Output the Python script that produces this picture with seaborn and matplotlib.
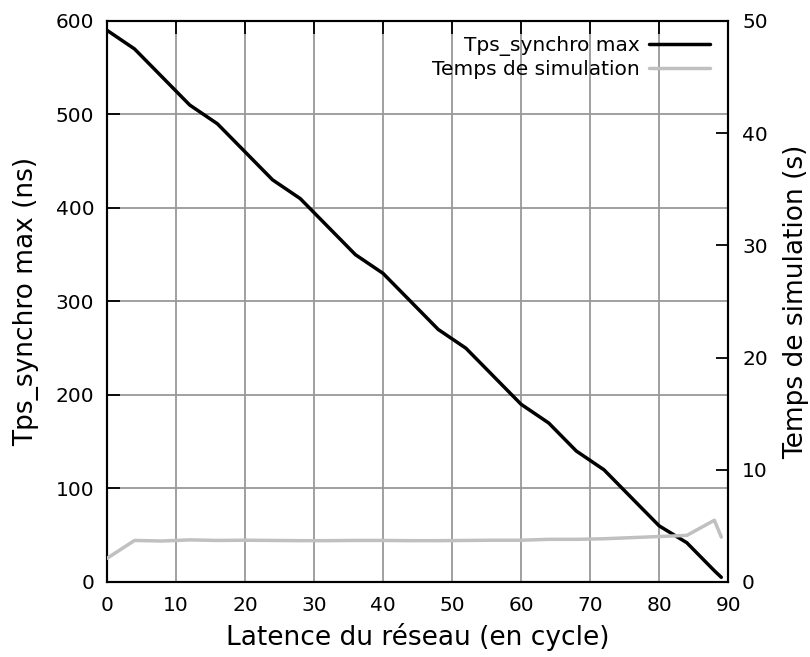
import matplotlib
matplotlib.use('Agg')
import matplotlib.pyplot as plt
import seaborn as sns
import pandas as pd

# %% data
latence = [0, 4, 8, 12, 16, 20, 24, 28, 32, 36, 40, 44, 48, 52, 56, 60, 64, 68, 72, 76, 80, 84, 88, 89]
tps_synchro = [590, 570, 540, 510, 490, 460, 430, 410, 380, 350, 330, 300, 270, 250, 220, 190, 170, 140, 120, 90, 60, 42, 12, 5]
temps_simu = [2.1, 3.7, 3.65, 3.75, 3.7, 3.72, 3.7, 3.68, 3.68, 3.7, 3.7, 3.68, 3.68, 3.7, 3.72, 3.72, 3.8, 3.8, 3.85, 3.95, 4.05, 4.15, 5.5, 4.0]

df = pd.DataFrame({'latence': latence, 'synchro': tps_synchro, 'simu': temps_simu})

# %% plot
sns.set_style('white')
plt.rcParams['font.family'] = ['DejaVu Sans']
plt.rcParams['text.color'] = 'black'
plt.rcParams['axes.labelcolor'] = 'black'
plt.rcParams['xtick.color'] = 'black'
plt.rcParams['ytick.color'] = 'black'

fig = plt.figure(figsize=(8.1, 6.57), dpi=100)
ax = fig.add_axes([0.132, 0.1142, 0.767, 0.854])
ax2 = ax.twinx()

sns.lineplot(data=df, x='latence', y='synchro', ax=ax, color='black', linewidth=2.5,
             label='Tps_synchro max', legend=False, zorder=3)
sns.lineplot(data=df, x='latence', y='simu', ax=ax2, color='#c0c0c0', linewidth=2.5,
             label='Temps de simulation', legend=False, zorder=3)

ax.set_xlim(0, 90)
ax.set_ylim(0, 600)
ax2.set_ylim(0, 50)
ax.set_xticks(range(0, 91, 10))
ax.set_yticks(range(0, 601, 100))
ax2.set_yticks(range(0, 51, 10))

ax.grid(True, color='#999999', linewidth=1.3)
ax.set_axisbelow(True)

ax.tick_params(axis='x', direction='in', length=9, width=1.3, top=True, labelsize=14.5, pad=10)
ax.tick_params(axis='y', direction='in', length=9, width=1.3, labelsize=14.5, pad=9)
ax2.tick_params(axis='y', direction='in', length=9, width=1.3, labelsize=14.5, pad=10)

for a in (ax, ax2):
    for s in a.spines.values():
        s.set_color('black')
        s.set_linewidth(1.5)

ax.set_xlabel('Latence du réseau (en cycle)', fontsize=19, labelpad=6)
ax.set_ylabel('Tps_synchro max (ns)', fontsize=19, labelpad=12)
ax2.set_ylabel('Temps de simulation (s)', fontsize=19, labelpad=11)

h1, l1 = ax.get_legend_handles_labels()
h2, l2 = ax2.get_legend_handles_labels()
ax2.legend(h1 + h2, l1 + l2, loc='upper right', bbox_to_anchor=(0.99, 0.995),
           frameon=False, markerfirst=False, fontsize=14.5, handlelength=3.0,
           labelspacing=0.2, handletextpad=0.5, borderaxespad=0.2)

plt.savefig('out.png', dpi=100)
